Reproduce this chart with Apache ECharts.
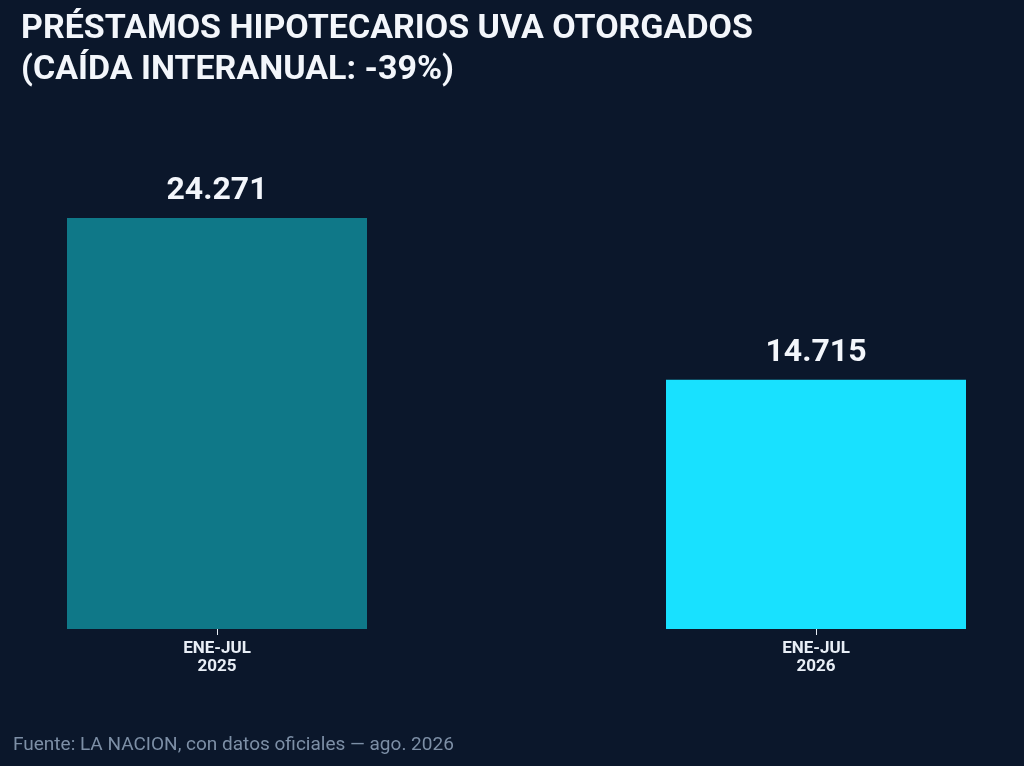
<!DOCTYPE html>
<html>
<head>
<meta charset="utf-8">
<script src="https://cdn.jsdelivr.net/npm/echarts@6/dist/echarts.min.js"></script>
<style>
html,body{margin:0;padding:0;background:#0b172b;}
#chart{width:1024px;height:766px;}
</style>
</head>
<body>
<div id="chart"></div>
<script>
const categories = ['ENE-JUL\n2025', 'ENE-JUL\n2026'];
const values = [24271, 14715];
const barColors = ['#0f7888', '#18e1ff'];
const titleText = 'PRÉSTAMOS HIPOTECARIOS UVA OTORGADOS\n(CAÍDA INTERANUAL: -39%)';
const sourceText = 'Fuente: LA NACION, con datos oficiales — ago. 2026';

function fmt(v){ return String(v).replace(/\B(?=(\d{3})+(?!\d))/g, '.'); }

const chart = echarts.init(document.getElementById('chart'));
chart.setOption({
  backgroundColor: '#0b172b',
  title: [{
    text: titleText,
    left: 16, top: 4,
    textStyle: { color: '#f3f6fb', fontSize: 34, fontWeight: 'bold', fontFamily: 'Roboto', lineHeight: 41 }
  }, {
    text: sourceText,
    left: 8, top: 731,
    textStyle: { color: '#7d8fa6', fontSize: 19, fontWeight: 'normal', fontFamily: 'Roboto' }
  }],
  grid: { left: -82.5, right: -91.5, top: 121, bottom: 137, outerBoundsMode: 'none', containLabel: false },
  xAxis: {
    type: 'category',
    data: categories,
    axisLine: { show: false },
    axisTick: { show: true, alignWithLabel: true, length: 6, lineStyle: { color: '#e8eef6', width: 1 } },
    axisLabel: { color: '#e8eef6', fontSize: 17, fontWeight: 'bold', fontFamily: 'Roboto', lineHeight: 18, margin: 11 }
  },
  yAxis: { type: 'value', min: 0, max: 30000, show: false, splitLine: { show: false } },
  series: [{
    type: 'bar',
    barWidth: 300,
    data: values.map((v, i) => ({ value: v, itemStyle: { color: barColors[i] } })),
    label: {
      show: true, position: 'top', distance: 11,
      color: '#f3f6fb', fontSize: 32, fontWeight: 'bold', fontFamily: 'Roboto',
      formatter: p => fmt(p.value)
    }
  }]
});
</script>
</body>
</html>
